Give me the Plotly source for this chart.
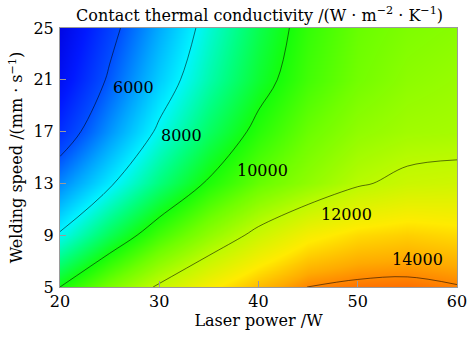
import plotly.graph_objects as go

# Grid
laser_power = [20, 25, 30, 35, 40, 45, 50, 55, 60]          # W
welding_speed = [5, 9, 13, 17, 21, 25]                        # mm/s
conductivity = [
    [10000, 11150, 12120, 12900, 13530, 14010, 14140, 14170, 14040],  # v=5
    [8100, 9380, 10500, 11420, 12220, 12850, 13180, 13300, 13180],    # v=9
    [6650, 7880, 9050, 10100, 10900, 11420, 11920, 12180, 12250],     # v=13
    [5400, 6830, 8150, 9280, 10220, 10950, 11430, 11640, 11700],      # v=17
    [4650, 6130, 7500, 8670, 9690, 10510, 11060, 11380, 11520],       # v=21
    [4250, 5700, 7070, 8330, 9440, 10340, 10930, 11200, 11330],       # v=25
]
x_ticks = [20, 30, 40, 50, 60]
y_ticks = [5, 9, 13, 17, 21, 25]
level_labels = ["6000", "8000", "10000", "12000", "14000"]
label_x = [27.4, 32.2, 40.4, 48.9, 56.0]
label_y = [20.4, 16.7, 14.0, 10.6, 7.1]

zmin, zmax = 4000, 14500
stops = [
    (4000, "rgb(0,0,220)"), (5000, "rgb(0,25,255)"), (6000, "rgb(0,80,255)"),
    (7000, "rgb(0,165,255)"), (8000, "rgb(0,245,255)"), (9000, "rgb(0,255,130)"),
    (10000, "rgb(20,255,10)"), (11000, "rgb(110,255,0)"), (12000, "rgb(190,250,0)"),
    (13000, "rgb(255,235,0)"), (13700, "rgb(255,170,0)"), (14500, "rgb(255,70,0)"),
]
colorscale = [[(v - zmin) / (zmax - zmin), c] for v, c in stops]

FONT = "DejaVu Serif"
FS = 16

fig = go.Figure()
fig.add_trace(go.Contour(
    x=laser_power, y=welding_speed, z=conductivity,
    zmin=zmin, zmax=zmax, zauto=False,
    colorscale=colorscale, showscale=False,
    contours=dict(start=6000, end=14000, size=2000, coloring="heatmap",
                  showlabels=False),
    line=dict(color="rgba(0,0,0,0.55)", width=1, smoothing=1),
    hoverinfo="skip",
))

for t, lx, ly in zip(level_labels, label_x, label_y):
    fig.add_annotation(x=lx, y=ly, text=t, showarrow=False,
                       font=dict(family=FONT, size=FS, color="black"))

axis_common = dict(showline=True, linecolor="#9a9a9a", linewidth=1, mirror=True,
                   ticks="inside", tickcolor="#9a9a9a", ticklen=6,
                   showgrid=False, zeroline=False, automargin=False,
                   tickfont=dict(family=FONT, size=FS, color="black"))

fig.update_layout(
    width=472, height=337,
    margin=dict(l=60, r=15, t=28, b=50),
    paper_bgcolor="white", plot_bgcolor="white",
    font=dict(family=FONT, color="black"),
    title=dict(text="Contact thermal conductivity /(W · m<sup>−2</sup> · K<sup>−1</sup>)",
               x=0.55, xanchor="center", y=0.972, yanchor="top",
               font=dict(family=FONT, size=FS, color="black")),
    xaxis=dict(range=[20, 60], tickvals=x_ticks, ticklabelstandoff=0,
               title=dict(text="Laser power /W", standoff=4,
                          font=dict(family=FONT, size=FS)), **axis_common),
    yaxis=dict(range=[5, 25], tickvals=y_ticks, ticklabelstandoff=2,
               title=dict(text="Welding speed /(mm · s<sup>−1</sup>)", standoff=6,
                          font=dict(family=FONT, size=FS)), **axis_common),
)

fig.write_html("out.html")
